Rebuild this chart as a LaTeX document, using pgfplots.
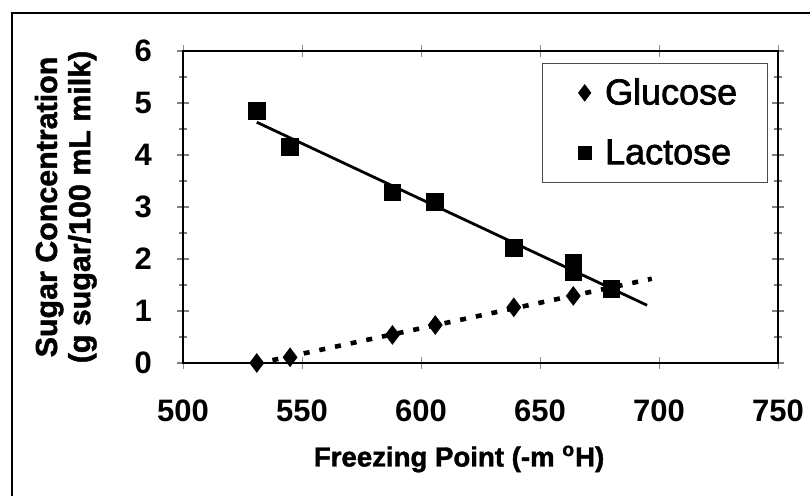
\documentclass[border=0pt]{standalone}
\usepackage{pgfplots}
\pgfplotsset{compat=1.18}
\usepackage{fontspec}
\setmainfont{Liberation Sans}
\newfontfamily\thickfont{Liberation Sans}[FakeBold=2]
\newfontfamily\titlefont{Liberation Sans}[BoldFeatures={FakeBold=1.5}]

% measured values (freezing point -m°H, g sugar/100 mL)
\pgfplotstableread{
x y
531 0.00
545 0.11
588 0.54
606 0.73
639 1.07
664 1.29
}\glucose
\pgfplotstableread{
x y
531 4.85
545 4.15
588 3.28
606 3.10
639 2.22
664 1.92
664 1.75
680 1.42
}\lactose

\begin{document}
\begin{tikzpicture}
\useasboundingbox (0,0) rectangle (405pt,248pt);
\draw[line width=1pt] (6pt,-2pt) -- (6pt,241.5pt) -- (407pt,241.5pt);
\begin{axis}[
  at={(91.5pt,66.5pt)}, anchor=south west,
  width=297.5pt, height=156pt, scale only axis,
  xmin=500, xmax=750, ymin=0, ymax=6,
  xtick={500,550,...,750}, ytick={0,1,...,6},
  minor y tick num=1,
  tick align=center,
  major tick length=6pt, minor tick length=4pt,
  xtick style={draw=black!45, line width=0.4pt},
  ytick style={line width=0.6pt},
  axis line style={line width=1.1pt},
  clip=false,
  /pgf/number format/assume math mode=true,
  tick label style={font=\bfseries\fontsize{15.5}{17}\selectfont},
  xticklabel style={anchor=north, yshift=-12pt},
  yticklabel style={anchor=east, xshift=-9pt},
  xlabel={Freezing Point (-m \textsuperscript{o}H)},
  xlabel style={at={(axis description cs:0.464,0)}, anchor=center, yshift=-48pt,
    font=\titlefont\bfseries\fontsize{13.8}{16}\selectfont},
  ylabel={Sugar Concentration\\(g sugar/100 mL milk)},
  ylabel style={at={(axis description cs:-0.197,0.5)}, anchor=center, rotate=0, align=center,
    font=\titlefont\bfseries\fontsize{15.2}{16.6}\selectfont},
  legend image code/.code={\draw[#1] plot coordinates {(0pt,0pt)};},
  legend style={draw=black!70, line width=0.5pt, fill=white,
    at={(0.603,0.962)}, anchor=north west,
    inner xsep=18pt, inner ysep=5.5pt, row sep=12pt,
    nodes={inner sep=2pt},
    font=\thickfont\fontsize{18}{19}\selectfont,
    /tikz/every odd column/.style={column sep=5pt}},
  legend cell align=left,
]
\addplot[only marks, mark=diamond*, mark size=4.6pt, black,
  legend image post style={mark size=4pt}] table {\glucose};
\addlegendentry{Glucose\hspace*{-5pt}}
\addplot[only marks, mark=square*, mark size=4.2pt, black,
  legend image post style={mark size=3.2pt}] table {\lactose};
\addlegendentry{Lactose\hspace*{-5pt}}
% trendlines
\addplot[forget plot, black, line width=2.3pt, dash pattern=on 3pt off 5pt] coordinates {(531,-0.01) (697,1.62)};
\addplot[forget plot, black, line width=1.4pt] coordinates {(531,4.63) (695,1.11)};
\end{axis}
\end{tikzpicture}
\end{document}
